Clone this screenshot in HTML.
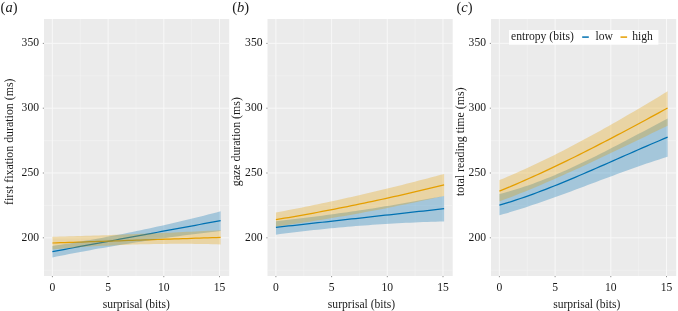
<!DOCTYPE html>
<html><head><meta charset="utf-8"><title>figure</title>
<style>html,body{margin:0;padding:0;background:#fff}svg{display:block}</style>
</head><body>
<svg width="678" height="311" viewBox="0 0 678 311" font-family="'Liberation Serif', serif" font-size="11.6" fill="#1a1a1a">
<defs><filter id="ga" filterUnits="userSpaceOnUse" x="0" y="0" width="678" height="311"><feOffset dx="0" dy="0"/></filter></defs>
<rect width="678" height="311" fill="#fff"/>
<rect x="44.0" y="19.0" width="185.2" height="257.0" fill="#EBEBEB"/>
<path d="M44.0 270.20H229.2M44.0 205.40H229.2M44.0 140.60H229.2M44.0 75.80H229.2M80.25 19.0V276.0M135.95 19.0V276.0M191.65 19.0V276.0" stroke="#F3F3F3" stroke-width="0.6" fill="none"/>
<path d="M44.0 237.80H229.2M44.0 173.00H229.2M44.0 108.20H229.2M44.0 43.40H229.2M52.40 19.0V276.0M108.10 19.0V276.0M163.80 19.0V276.0M219.50 19.0V276.0" stroke="#F8F8F8" stroke-width="1" fill="none"/>
<polyline points="52.40,251.60 56.61,250.83 60.81,250.06 65.02,249.28 69.22,248.51 73.43,247.74 77.63,246.97 81.84,246.19 86.04,245.42 90.25,244.65 94.45,243.88 98.66,243.10 102.86,242.33 107.07,241.55 111.27,240.78 115.48,240.01 119.69,239.23 123.89,238.46 128.10,237.68 132.30,236.91 136.51,236.13 140.71,235.36 144.92,234.58 149.12,233.81 153.33,233.03 157.53,232.26 161.74,231.48 165.94,230.70 170.15,229.93 174.36,229.15 178.56,228.38 182.77,227.60 186.97,226.82 191.18,226.04 195.38,225.27 199.59,224.49 203.79,223.71 208.00,222.93 212.20,222.16 216.41,221.38 220.61,220.60" fill="none" stroke="#0072B2" stroke-width="1.25"/>
<polyline points="52.40,243.00 56.61,242.86 60.81,242.72 65.02,242.58 69.22,242.44 73.43,242.30 77.63,242.16 81.84,242.02 86.04,241.88 90.25,241.74 94.45,241.60 98.66,241.46 102.86,241.32 107.07,241.18 111.27,241.04 115.48,240.90 119.69,240.76 123.89,240.62 128.10,240.48 132.30,240.34 136.51,240.20 140.71,240.06 144.92,239.92 149.12,239.78 153.33,239.64 157.53,239.50 161.74,239.36 165.94,239.22 170.15,239.08 174.36,238.94 178.56,238.80 182.77,238.66 186.97,238.52 191.18,238.38 195.38,238.24 199.59,238.10 203.79,237.96 208.00,237.82 212.20,237.68 216.41,237.54 220.61,237.40" fill="none" stroke="#E69F00" stroke-width="1.25"/>
<polygon points="52.40,246.00 56.61,245.37 60.81,244.73 65.02,244.07 69.22,243.41 73.43,242.73 77.63,242.04 81.84,241.33 86.04,240.62 90.25,239.89 94.45,239.15 98.66,238.40 102.86,237.63 107.07,236.86 111.27,236.07 115.48,235.27 119.69,234.45 123.89,233.63 128.10,232.79 132.30,231.94 136.51,231.08 140.71,230.21 144.92,229.32 149.12,228.42 153.33,227.51 157.53,226.59 161.74,225.66 165.94,224.71 170.15,223.75 174.36,222.78 178.56,221.80 182.77,220.80 186.97,219.80 191.18,218.78 195.38,217.75 199.59,216.70 203.79,215.65 208.00,214.58 212.20,213.50 216.41,212.40 220.61,211.30 220.61,231.00 216.41,231.47 212.20,231.96 208.00,232.45 203.79,232.95 199.59,233.46 195.38,233.99 191.18,234.52 186.97,235.06 182.77,235.61 178.56,236.17 174.36,236.74 170.15,237.32 165.94,237.91 161.74,238.50 157.53,239.11 153.33,239.73 149.12,240.35 144.92,240.99 140.71,241.64 136.51,242.29 132.30,242.96 128.10,243.63 123.89,244.31 119.69,245.01 115.48,245.71 111.27,246.42 107.07,247.15 102.86,247.88 98.66,248.62 94.45,249.37 90.25,250.13 86.04,250.90 81.84,251.68 77.63,252.47 73.43,253.26 69.22,254.07 65.02,254.89 60.81,255.72 56.61,256.55 52.40,257.40" fill="#0072B2" fill-opacity="0.3"/>
<polygon points="52.40,236.80 56.61,236.69 60.81,236.57 65.02,236.45 69.22,236.33 73.43,236.21 77.63,236.09 81.84,235.96 86.04,235.83 90.25,235.69 94.45,235.56 98.66,235.42 102.86,235.27 107.07,235.13 111.27,234.98 115.48,234.83 119.69,234.68 123.89,234.52 128.10,234.37 132.30,234.20 136.51,234.04 140.71,233.87 144.92,233.71 149.12,233.53 153.33,233.36 157.53,233.18 161.74,233.00 165.94,232.82 170.15,232.63 174.36,232.45 178.56,232.26 182.77,232.06 186.97,231.87 191.18,231.67 195.38,231.47 199.59,231.26 203.79,231.05 208.00,230.84 212.20,230.63 216.41,230.42 220.61,230.20 220.61,244.40 216.41,244.29 212.20,244.19 208.00,244.10 203.79,244.02 199.59,243.96 195.38,243.91 191.18,243.87 186.97,243.84 182.77,243.83 178.56,243.83 174.36,243.84 170.15,243.86 165.94,243.89 161.74,243.94 157.53,244.00 153.33,244.07 149.12,244.15 144.92,244.24 140.71,244.35 136.51,244.47 132.30,244.60 128.10,244.74 123.89,244.90 119.69,245.07 115.48,245.25 111.27,245.44 107.07,245.64 102.86,245.86 98.66,246.09 94.45,246.33 90.25,246.58 86.04,246.84 81.84,247.12 77.63,247.41 73.43,247.71 69.22,248.02 65.02,248.35 60.81,248.69 56.61,249.04 52.40,249.40" fill="#E69F00" fill-opacity="0.3"/>
<path d="M42.80 237.80H44.0M42.80 173.00H44.0M42.80 108.20H44.0M42.80 43.40H44.0M52.40 276.0V277.2M108.10 276.0V277.2M163.80 276.0V277.2M219.50 276.0V277.2" stroke="#444" stroke-width="0.6" fill="none"/>
<rect x="267.5" y="19.0" width="185.2" height="257.0" fill="#EBEBEB"/>
<path d="M267.5 270.20H452.7M267.5 205.40H452.7M267.5 140.60H452.7M267.5 75.80H452.7M303.75 19.0V276.0M359.45 19.0V276.0M415.15 19.0V276.0" stroke="#F3F3F3" stroke-width="0.6" fill="none"/>
<path d="M267.5 237.80H452.7M267.5 173.00H452.7M267.5 108.20H452.7M267.5 43.40H452.7M275.90 19.0V276.0M331.60 19.0V276.0M387.30 19.0V276.0M443.00 19.0V276.0" stroke="#F8F8F8" stroke-width="1" fill="none"/>
<polyline points="275.90,227.37 280.11,226.90 284.31,226.44 288.52,225.97 292.72,225.51 296.93,225.04 301.13,224.58 305.34,224.11 309.54,223.64 313.75,223.18 317.95,222.71 322.16,222.25 326.36,221.78 330.57,221.31 334.77,220.85 338.98,220.38 343.19,219.91 347.39,219.44 351.60,218.98 355.80,218.51 360.01,218.04 364.21,217.57 368.42,217.11 372.62,216.64 376.83,216.17 381.03,215.70 385.24,215.23 389.44,214.77 393.65,214.30 397.86,213.83 402.06,213.36 406.27,212.89 410.47,212.42 414.68,211.95 418.88,211.49 423.09,211.02 427.29,210.55 431.50,210.08 435.70,209.61 439.91,209.14 444.11,208.67" fill="none" stroke="#0072B2" stroke-width="1.25"/>
<polyline points="275.90,219.63 280.11,218.93 284.31,218.22 288.52,217.51 292.72,216.78 296.93,216.04 301.13,215.30 305.34,214.55 309.54,213.79 313.75,213.02 317.95,212.24 322.16,211.45 326.36,210.65 330.57,209.85 334.77,209.03 338.98,208.21 343.19,207.38 347.39,206.54 351.60,205.69 355.80,204.83 360.01,203.96 364.21,203.09 368.42,202.20 372.62,201.31 376.83,200.41 381.03,199.50 385.24,198.58 389.44,197.65 393.65,196.71 397.86,195.77 402.06,194.81 406.27,193.85 410.47,192.88 414.68,191.90 418.88,190.91 423.09,189.91 427.29,188.90 431.50,187.89 435.70,186.86 439.91,185.83 444.11,184.79" fill="none" stroke="#E69F00" stroke-width="1.25"/>
<polygon points="275.90,221.28 280.11,220.81 284.31,220.33 288.52,219.85 292.72,219.36 296.93,218.85 301.13,218.34 305.34,217.83 309.54,217.30 313.75,216.76 317.95,216.22 322.16,215.67 326.36,215.11 330.57,214.54 334.77,213.96 338.98,213.37 343.19,212.78 347.39,212.17 351.60,211.56 355.80,210.94 360.01,210.31 364.21,209.68 368.42,209.03 372.62,208.38 376.83,207.71 381.03,207.04 385.24,206.36 389.44,205.68 393.65,204.98 397.86,204.27 402.06,203.56 406.27,202.84 410.47,202.11 414.68,201.37 418.88,200.62 423.09,199.87 427.29,199.10 431.50,198.33 435.70,197.55 439.91,196.76 444.11,195.96 444.11,221.48 439.91,221.59 435.70,221.70 431.50,221.83 427.29,221.97 423.09,222.12 418.88,222.29 414.68,222.46 410.47,222.65 406.27,222.84 402.06,223.05 397.86,223.27 393.65,223.51 389.44,223.75 385.24,224.00 381.03,224.27 376.83,224.55 372.62,224.84 368.42,225.14 364.21,225.45 360.01,225.77 355.80,226.11 351.60,226.46 347.39,226.81 343.19,227.18 338.98,227.57 334.77,227.96 330.57,228.36 326.36,228.78 322.16,229.20 317.95,229.64 313.75,230.09 309.54,230.56 305.34,231.03 301.13,231.51 296.93,232.01 292.72,232.52 288.52,233.04 284.31,233.57 280.11,234.11 275.90,234.66" fill="#0072B2" fill-opacity="0.3"/>
<polygon points="275.90,212.50 280.11,211.71 284.31,210.91 288.52,210.10 292.72,209.29 296.93,208.46 301.13,207.63 305.34,206.78 309.54,205.93 313.75,205.07 317.95,204.20 322.16,203.32 326.36,202.43 330.57,201.53 334.77,200.63 338.98,199.71 343.19,198.79 347.39,197.85 351.60,196.91 355.80,195.96 360.01,195.00 364.21,194.03 368.42,193.05 372.62,192.06 376.83,191.07 381.03,190.06 385.24,189.05 389.44,188.02 393.65,186.99 397.86,185.95 402.06,184.90 406.27,183.84 410.47,182.77 414.68,181.69 418.88,180.61 423.09,179.51 427.29,178.41 431.50,177.29 435.70,176.17 439.91,175.04 444.11,173.90 444.11,195.96 439.91,196.91 435.70,197.85 431.50,198.78 427.29,199.70 423.09,200.61 418.88,201.51 414.68,202.40 410.47,203.28 406.27,204.16 402.06,205.02 397.86,205.87 393.65,206.72 389.44,207.56 385.24,208.38 381.03,209.20 376.83,210.01 372.62,210.81 368.42,211.60 364.21,212.37 360.01,213.15 355.80,213.91 351.60,214.66 347.39,215.40 343.19,216.13 338.98,216.86 334.77,217.57 330.57,218.28 326.36,218.97 322.16,219.66 317.95,220.34 313.75,221.00 309.54,221.66 305.34,222.31 301.13,222.95 296.93,223.58 292.72,224.20 288.52,224.81 284.31,225.41 280.11,226.01 275.90,226.59" fill="#E69F00" fill-opacity="0.3"/>
<path d="M266.30 237.80H267.5M266.30 173.00H267.5M266.30 108.20H267.5M266.30 43.40H267.5M275.90 276.0V277.2M331.60 276.0V277.2M387.30 276.0V277.2M443.00 276.0V277.2" stroke="#444" stroke-width="0.6" fill="none"/>
<rect x="491.0" y="19.0" width="185.2" height="257.0" fill="#EBEBEB"/>
<path d="M491.0 270.20H676.2M491.0 205.40H676.2M491.0 140.60H676.2M491.0 75.80H676.2M527.25 19.0V276.0M582.95 19.0V276.0M638.65 19.0V276.0" stroke="#F3F3F3" stroke-width="0.6" fill="none"/>
<path d="M491.0 237.80H676.2M491.0 173.00H676.2M491.0 108.20H676.2M491.0 43.40H676.2M499.40 19.0V276.0M555.10 19.0V276.0M610.80 19.0V276.0M666.50 19.0V276.0" stroke="#F8F8F8" stroke-width="1" fill="none"/>
<polyline points="499.40,205.20 503.61,203.95 507.81,202.65 512.02,201.31 516.22,199.94 520.43,198.52 524.63,197.07 528.84,195.58 533.04,194.05 537.25,192.50 541.45,190.91 545.66,189.30 549.86,187.66 554.07,185.99 558.27,184.30 562.48,182.59 566.69,180.85 570.89,179.10 575.10,177.33 579.30,175.54 583.51,173.74 587.71,171.93 591.92,170.10 596.12,168.27 600.33,166.43 604.53,164.58 608.74,162.72 612.94,160.87 617.15,159.01 621.36,157.15 625.56,155.30 629.77,153.45 633.97,151.60 638.18,149.76 642.38,147.93 646.59,146.11 650.79,144.30 655.00,142.50 659.20,140.72 663.41,138.95 667.61,137.20" fill="none" stroke="#0072B2" stroke-width="1.25"/>
<polyline points="499.40,191.12 503.61,189.39 507.81,187.65 512.02,185.87 516.22,184.08 520.43,182.25 524.63,180.41 528.84,178.54 533.04,176.66 537.25,174.75 541.45,172.82 545.66,170.87 549.86,168.90 554.07,166.91 558.27,164.90 562.48,162.88 566.69,160.83 570.89,158.77 575.10,156.70 579.30,154.61 583.51,152.50 587.71,150.38 591.92,148.24 596.12,146.09 600.33,143.93 604.53,141.75 608.74,139.57 612.94,137.37 617.15,135.16 621.36,132.94 625.56,130.71 629.77,128.47 633.97,126.22 638.18,123.97 642.38,121.71 646.59,119.44 650.79,117.16 655.00,114.88 659.20,112.59 663.41,110.30 667.61,108.00" fill="none" stroke="#E69F00" stroke-width="1.25"/>
<polygon points="499.40,194.00 503.61,192.92 507.81,191.78 512.02,190.58 516.22,189.31 520.43,187.98 524.63,186.59 528.84,185.15 533.04,183.65 537.25,182.09 541.45,180.49 545.66,178.83 549.86,177.13 554.07,175.39 558.27,173.60 562.48,171.77 566.69,169.90 570.89,167.99 575.10,166.05 579.30,164.08 583.51,162.07 587.71,160.04 591.92,157.98 596.12,155.89 600.33,153.78 604.53,151.66 608.74,149.51 612.94,147.34 617.15,145.16 621.36,142.97 625.56,140.77 629.77,138.56 633.97,136.34 638.18,134.12 642.38,131.89 646.59,129.67 650.79,127.44 655.00,125.22 659.20,123.01 663.41,120.80 667.61,118.60 667.61,156.70 663.41,158.03 659.20,159.38 655.00,160.76 650.79,162.16 646.59,163.59 642.38,165.04 638.18,166.51 633.97,168.00 629.77,169.50 625.56,171.02 621.36,172.55 617.15,174.10 612.94,175.65 608.74,177.22 604.53,178.78 600.33,180.36 596.12,181.94 591.92,183.52 587.71,185.10 583.51,186.67 579.30,188.25 575.10,189.82 570.89,191.38 566.69,192.93 562.48,194.48 558.27,196.01 554.07,197.53 549.86,199.04 545.66,200.52 541.45,201.99 537.25,203.44 533.04,204.87 528.84,206.27 524.63,207.65 520.43,209.00 516.22,210.33 512.02,211.62 507.81,212.88 503.61,214.11 499.40,215.30" fill="#0072B2" fill-opacity="0.3"/>
<polygon points="499.40,180.12 503.61,178.38 507.81,176.61 512.02,174.81 516.22,172.97 520.43,171.11 524.63,169.21 528.84,167.29 533.04,165.33 537.25,163.35 541.45,161.34 545.66,159.30 549.86,157.24 554.07,155.15 558.27,153.03 562.48,150.89 566.69,148.73 570.89,146.54 575.10,144.33 579.30,142.10 583.51,139.85 587.71,137.57 591.92,135.28 596.12,132.97 600.33,130.64 604.53,128.29 608.74,125.92 612.94,123.53 617.15,121.13 621.36,118.72 625.56,116.29 629.77,113.84 633.97,111.38 638.18,108.91 642.38,106.43 646.59,103.93 650.79,101.43 655.00,98.91 659.20,96.38 663.41,93.85 667.61,91.30 667.61,125.70 663.41,127.74 659.20,129.77 655.00,131.80 650.79,133.84 646.59,135.88 642.38,137.91 638.18,139.95 633.97,141.98 629.77,144.01 625.56,146.04 621.36,148.06 617.15,150.08 612.94,152.09 608.74,154.10 604.53,156.09 600.33,158.08 596.12,160.07 591.92,162.04 587.71,164.00 583.51,165.95 579.30,167.89 575.10,169.81 570.89,171.72 566.69,173.62 562.48,175.50 558.27,177.37 554.07,179.22 549.86,181.05 545.66,182.87 541.45,184.67 537.25,186.44 533.04,188.20 528.84,189.93 524.63,191.65 520.43,193.34 516.22,195.01 512.02,196.65 507.81,198.27 503.61,199.86 499.40,201.43" fill="#E69F00" fill-opacity="0.3"/>
<path d="M489.80 237.80H491.0M489.80 173.00H491.0M489.80 108.20H491.0M489.80 43.40H491.0M499.40 276.0V277.2M555.10 276.0V277.2M610.80 276.0V277.2M666.50 276.0V277.2" stroke="#444" stroke-width="0.6" fill="none"/>
<rect x="509" y="30" width="149.4" height="14.7" fill="#fff"/>
<path d="M582.2 37.1H588.8" stroke="#0072B2" stroke-width="1.5"/>
<path d="M620.5 37.1H627.1" stroke="#E69F00" stroke-width="1.5"/>
<g filter="url(#ga)"><text x="39.00" y="240.80" text-anchor="end">200</text><text x="39.00" y="176.00" text-anchor="end">250</text><text x="39.00" y="111.20" text-anchor="end">300</text><text x="39.00" y="46.40" text-anchor="end">350</text><text x="52.40" y="291.2" text-anchor="middle">0</text><text x="108.10" y="291.2" text-anchor="middle">5</text><text x="163.80" y="291.2" text-anchor="middle">10</text><text x="219.50" y="291.2" text-anchor="middle">15</text><text x="136.30" y="307.6" text-anchor="middle">surprisal (bits)</text><text transform="translate(13.10 141.7) rotate(-90)" text-anchor="middle" font-size="11.9">first fixation duration (ms)</text><text x="0.60" y="12.0" font-size="14.5">(<tspan font-style="italic">a</tspan>)</text><text x="262.50" y="240.80" text-anchor="end">200</text><text x="262.50" y="176.00" text-anchor="end">250</text><text x="262.50" y="111.20" text-anchor="end">300</text><text x="262.50" y="46.40" text-anchor="end">350</text><text x="275.90" y="291.2" text-anchor="middle">0</text><text x="331.60" y="291.2" text-anchor="middle">5</text><text x="387.30" y="291.2" text-anchor="middle">10</text><text x="443.00" y="291.2" text-anchor="middle">15</text><text x="361.50" y="307.6" text-anchor="middle">surprisal (bits)</text><text transform="translate(240.00 141.7) rotate(-90)" text-anchor="middle" font-size="11.9">gaze duration (ms)</text><text x="232.20" y="12.0" font-size="14.5">(<tspan font-style="italic">b</tspan>)</text><text x="486.00" y="240.80" text-anchor="end">200</text><text x="486.00" y="176.00" text-anchor="end">250</text><text x="486.00" y="111.20" text-anchor="end">300</text><text x="486.00" y="46.40" text-anchor="end">350</text><text x="499.40" y="291.2" text-anchor="middle">0</text><text x="555.10" y="291.2" text-anchor="middle">5</text><text x="610.80" y="291.2" text-anchor="middle">10</text><text x="666.50" y="291.2" text-anchor="middle">15</text><text x="586.80" y="307.6" text-anchor="middle">surprisal (bits)</text><text transform="translate(463.80 141.7) rotate(-90)" text-anchor="middle" font-size="11.9">total reading time (ms)</text><text x="456.50" y="12.0" font-size="14.5">(<tspan font-style="italic">c</tspan>)</text><text x="511" y="39.7">entropy (bits)</text><text x="595.6" y="39.7">low</text><text x="632.2" y="39.7">high</text></g>
</svg>
</body></html>
